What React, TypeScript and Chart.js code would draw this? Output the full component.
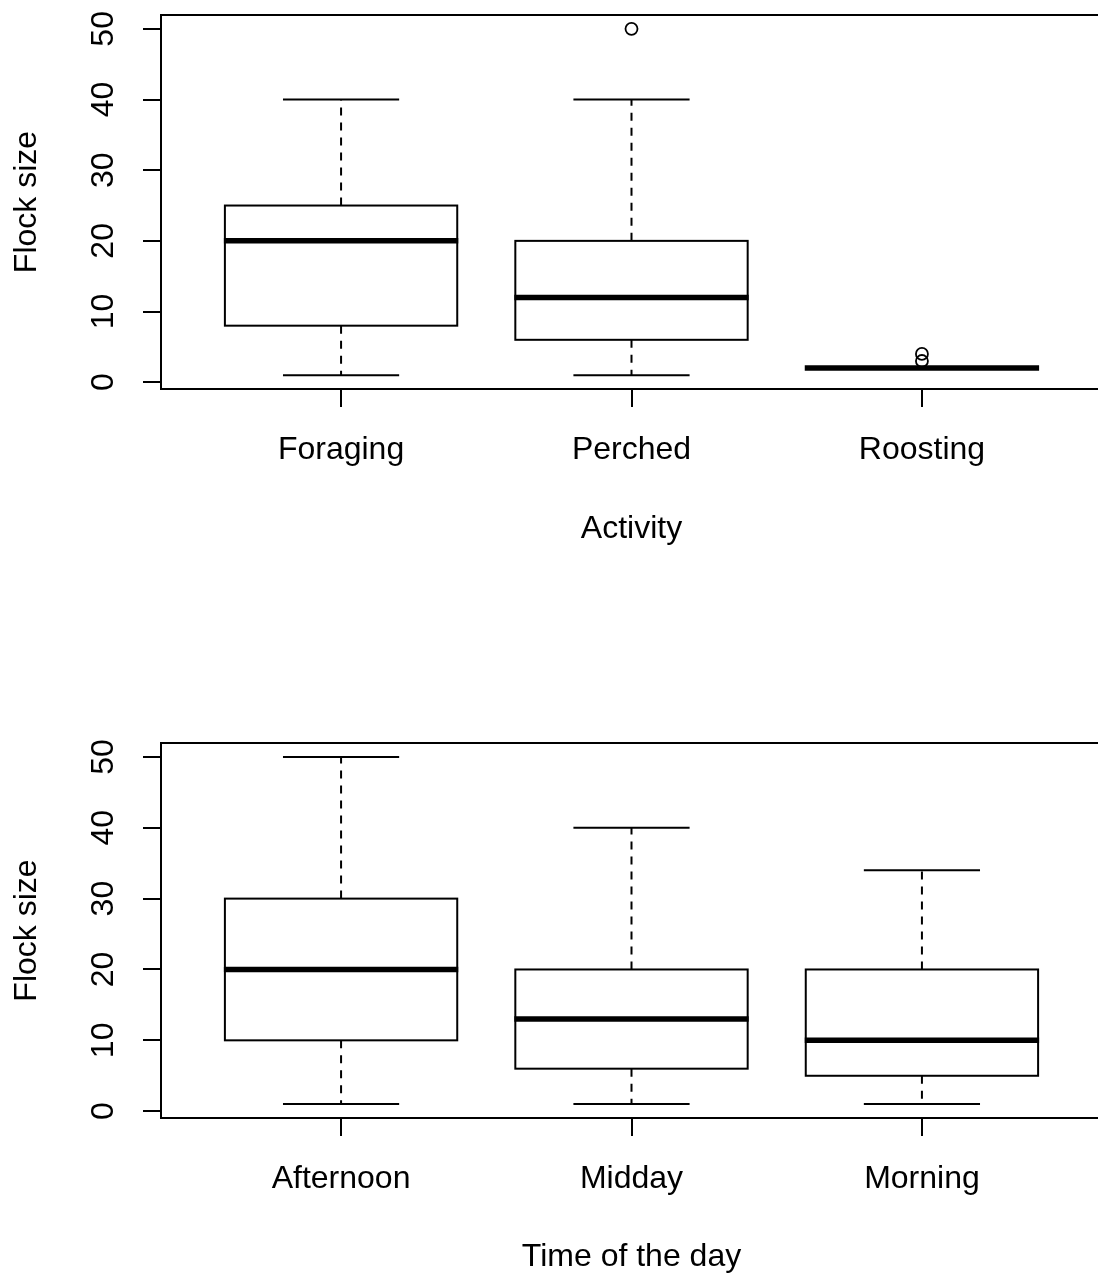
import React, { useEffect, useRef } from "react";
import { Chart, registerables } from "chart.js";

Chart.register(...registerables);

// ---- Data ----
const ACTIVITY_CATEGORIES = ["Foraging", "Perched", "Roosting"];
const ACTIVITY_WHISKER_LOW = [1, 1, 2];
const ACTIVITY_Q1 = [8, 6, 2];
const ACTIVITY_MEDIAN = [20, 12, 2];
const ACTIVITY_Q3 = [25, 20, 2];
const ACTIVITY_WHISKER_HIGH = [40, 40, 2];
const ACTIVITY_OUTLIERS = [[], [50], [3, 4]];

const TIME_CATEGORIES = ["Afternoon", "Midday", "Morning"];
const TIME_WHISKER_LOW = [1, 1, 1];
const TIME_Q1 = [10, 6, 5];
const TIME_MEDIAN = [20, 13, 10];
const TIME_Q3 = [30, 20, 20];
const TIME_WHISKER_HIGH = [50, 40, 34];
const TIME_OUTLIERS: number[][] = [[], [], []];

const Y_TICKS = [0, 10, 20, 30, 40, 50];
const Y_TITLE = "Flock size";
const ACTIVITY_X_TITLE = "Activity";
const TIME_X_TITLE = "Time of the day";

const FONT_FAMILY = "'Liberation Sans', Arial, Helvetica, sans-serif";
const INK = "#000";

type PanelProps = {
  categories: string[];
  low: number[];
  q1: number[];
  median: number[];
  q3: number[];
  high: number[];
  outliers: number[][];
  xTitle: string;
  padTop: number;
  xAxisHeight: number;
  xTitlePad: number;
};

const CANVAS_W = 1104;
const CANVAS_H = 638;

function zeroPadding(scale: any) {
  scale.paddingTop = 0;
  scale.paddingBottom = 0;
  scale.paddingLeft = 0;
  scale.paddingRight = 0;
}

function Panel(props: PanelProps) {
  const ref = useRef<HTMLCanvasElement | null>(null);

  useEffect(() => {
    if (!ref.current) return;
    const { categories, low, q1, median, q3, high, outliers } = props;

    const points: { x: number; y: number }[] = [];
    outliers.forEach((arr, i) => arr.forEach((v) => points.push({ x: i + 1, y: v })));

    const boxPlugin = {
      id: "boxplotDraw",
      beforeDatasetsDraw(chart: any) {
        const ctx = chart.ctx;
        const xs = chart.scales.x;
        const ys = chart.scales.y;
        ctx.save();
        for (let i = 0; i < categories.length; i++) {
          const cx = xs.getPixelForValue(i + 1);
          const half = xs.getPixelForValue(i + 1 + 0.4) - cx;
          const capHalf = xs.getPixelForValue(i + 1 + 0.2) - cx;
          const yLow = ys.getPixelForValue(low[i]);
          const yQ1 = ys.getPixelForValue(q1[i]);
          const yMed = ys.getPixelForValue(median[i]);
          const yQ3 = ys.getPixelForValue(q3[i]);
          const yHigh = ys.getPixelForValue(high[i]);

          ctx.strokeStyle = INK;
          // whiskers (dashed)
          ctx.lineWidth = 2;
          ctx.setLineDash([8, 7]);
          ctx.beginPath();
          ctx.moveTo(cx, yQ3);
          ctx.lineTo(cx, yHigh);
          ctx.moveTo(cx, yQ1);
          ctx.lineTo(cx, yLow);
          ctx.stroke();
          ctx.setLineDash([]);
          // caps
          ctx.beginPath();
          ctx.moveTo(cx - capHalf, yHigh);
          ctx.lineTo(cx + capHalf, yHigh);
          ctx.moveTo(cx - capHalf, yLow);
          ctx.lineTo(cx + capHalf, yLow);
          ctx.stroke();
          // box
          ctx.fillStyle = "#fff";
          ctx.fillRect(cx - half, yQ3, 2 * half, yQ1 - yQ3);
          ctx.lineWidth = 2;
          ctx.strokeRect(cx - half, yQ3, 2 * half, yQ1 - yQ3);
          // median
          ctx.lineWidth = 5.5;
          ctx.beginPath();
          ctx.moveTo(cx - half - 1, yMed);
          ctx.lineTo(cx + half + 1, yMed);
          ctx.stroke();
        }
        ctx.restore();
      },
      afterDraw(chart: any) {
        const { left, top, right, bottom } = chart.chartArea;
        const ctx = chart.ctx;
        ctx.save();
        ctx.strokeStyle = INK;
        ctx.lineWidth = 2;
        ctx.strokeRect(left, top, right - left, bottom - top);
        ctx.restore();
      },
    };

    const chart = new Chart(ref.current, {
      type: "scatter",
      data: {
        datasets: [
          {
            data: points,
            pointStyle: "circle",
            pointRadius: 6,
            pointBorderWidth: 1.8,
            pointBorderColor: INK,
            pointBackgroundColor: "rgba(0,0,0,0)",
            showLine: false,
          },
        ],
      },
      options: {
        animation: false,
        responsive: false,
        devicePixelRatio: 1,
        layout: { autoPadding: false, padding: { top: props.padTop, right: 2, left: 0, bottom: 0 } },
        plugins: {
          legend: { display: false },
          tooltip: { enabled: false },
        },
        scales: {
          x: {
            type: "linear",
            min: 0.38,
            max: 3.62,
            afterBuildTicks: (scale: any) => {
              scale.ticks = categories.map((_, i) => ({ value: i + 1 }));
            },
            afterFit: (scale: any) => {
              scale.height = props.xAxisHeight;
              zeroPadding(scale);
            },
            ticks: {
              autoSkip: false,
              maxRotation: 0,
              minRotation: 0,
              padding: 24,
              color: INK,
              font: { family: FONT_FAMILY, size: 32 },
              callback: (v: any) => categories[Math.round(Number(v)) - 1] ?? "",
            },
            grid: {
              display: true,
              drawOnChartArea: false,
              drawTicks: true,
              tickLength: 18,
              color: INK,
              lineWidth: 2,
            },
            border: { display: true, color: INK, width: 2 },
            title: {
              display: true,
              text: props.xTitle,
              color: INK,
              font: { family: FONT_FAMILY, size: 32 },
              padding: { top: 0, bottom: props.xTitlePad },
            },
          },
          y: {
            type: "linear",
            min: -0.96,
            max: 51.96,
            afterBuildTicks: (scale: any) => {
              scale.ticks = Y_TICKS.map((v) => ({ value: v }));
            },
            afterFit: (scale: any) => {
              scale.width = 161;
              zeroPadding(scale);
            },
            ticks: {
              minRotation: 90,
              maxRotation: 90,
              crossAlign: "center",
              padding: 21,
              color: INK,
              font: { family: FONT_FAMILY, size: 32 },
              callback: (v: any) => String(v),
            },
            grid: {
              display: true,
              drawOnChartArea: false,
              drawTicks: true,
              tickLength: 18,
              color: INK,
              lineWidth: 2,
            },
            border: { display: true, color: INK, width: 2 },
            title: {
              display: true,
              text: Y_TITLE,
              color: INK,
              font: { family: FONT_FAMILY, size: 32 },
              padding: { top: 8, bottom: 0 },
            },
          },
        },
      } as any,
      plugins: [boxPlugin],
    });

    return () => chart.destroy();
  }, []);

  return <canvas ref={ref} width={CANVAS_W} height={CANVAS_H} style={{ display: "block", width: CANVAS_W, height: CANVAS_H }} />;
}

export default function App() {
  return (
    <div
      style={{
        position: "absolute",
        left: 0,
        top: 0,
        width: 1098,
        height: 1276,
        overflow: "hidden",
        background: "#fff",
      }}
    >
      <Panel
        categories={ACTIVITY_CATEGORIES}
        low={ACTIVITY_WHISKER_LOW}
        q1={ACTIVITY_Q1}
        median={ACTIVITY_MEDIAN}
        q3={ACTIVITY_Q3}
        high={ACTIVITY_WHISKER_HIGH}
        outliers={ACTIVITY_OUTLIERS}
        xTitle={ACTIVITY_X_TITLE}
        padTop={15}
        xAxisHeight={CANVAS_H - 389}
        xTitlePad={90}
      />
      <Panel
        categories={TIME_CATEGORIES}
        low={TIME_WHISKER_LOW}
        q1={TIME_Q1}
        median={TIME_MEDIAN}
        q3={TIME_Q3}
        high={TIME_WHISKER_HIGH}
        outliers={TIME_OUTLIERS}
        xTitle={TIME_X_TITLE}
        padTop={105}
        xAxisHeight={CANVAS_H - 480}
        xTitlePad={0}
      />
    </div>
  );
}
